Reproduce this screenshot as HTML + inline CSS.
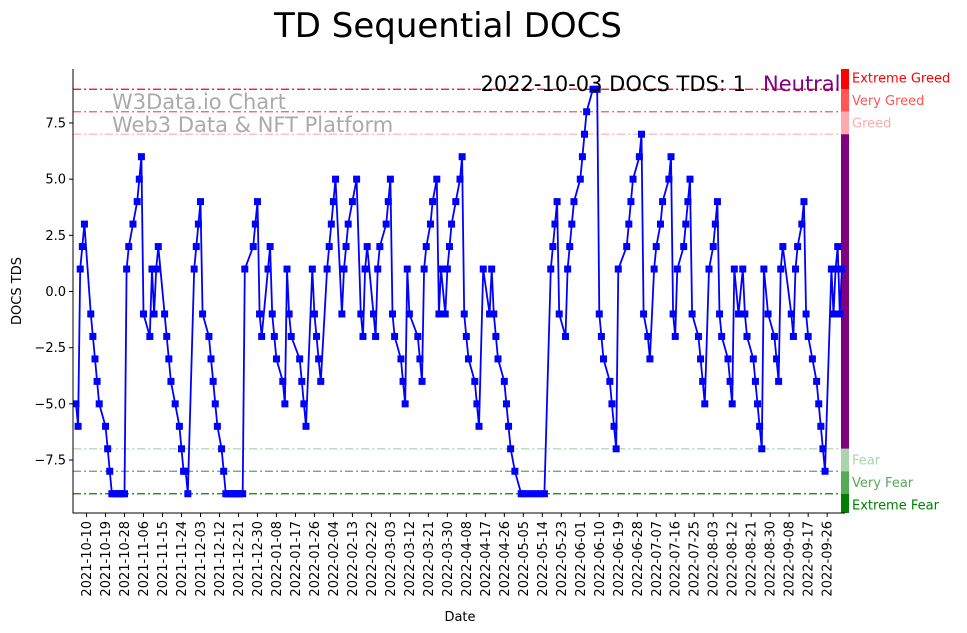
<!DOCTYPE html>
<html><head><meta charset="utf-8"><style>
body{margin:0;background:#fff;}
svg{display:block;font-family:"DejaVu Sans","Liberation Sans",sans-serif;}
</style></head><body>
<svg id="chart" width="967" height="633">
<text x="448" y="37" font-size="34" text-anchor="middle">TD Sequential DOCS</text>
<g id="bands"></g>
<g id="grid"></g>
<g id="series"></g>
<g id="axes"></g>
<text x="112" y="109" font-size="21" fill="#aaa">W3Data.io Chart</text>
<text x="112" y="132" font-size="21" fill="#aaa">Web3 Data &amp; NFT Platform</text>
<text x="746" y="91" font-size="21" text-anchor="end">2022-10-03 DOCS TDS: 1</text>
<text x="763" y="91" font-size="21" fill="#800080">Neutral</text>
<text x="460" y="621" font-size="13" text-anchor="middle">Date</text>
<text transform="translate(21,291) rotate(-90)" font-size="13" text-anchor="middle">DOCS TDS</text>
</svg>
<script>
const startDate = "2021-10-05";
const dayOffsets = [0,1,2,3,4,7,8,9,10,11,14,15,16,17,18,19,20,21,22,23,24,25,27,29,30,31,32,35,36,37,38,39,42,43,44,45,47,49,50,51,52,53,56,57,58,59,60,63,64,65,66,67,69,70,71,72,73,74,75,76,77,78,79,80,84,85,86,87,88,91,92,93,94,95,98,99,100,101,102,106,107,108,109,112,113,114,115,116,119,120,121,122,123,126,127,128,129,131,133,135,136,137,138,141,142,143,144,147,148,149,150,151,154,155,156,157,158,162,163,164,165,166,168,169,171,172,173,175,176,177,178,180,182,183,184,185,186,189,190,191,193,196,197,198,199,200,203,204,205,206,208,211,212,214,216,218,220,222,225,226,227,228,229,232,233,234,235,236,239,240,241,242,245,246,247,248,249,250,253,254,255,256,257,261,262,263,264,267,268,269,271,272,274,275,277,278,281,282,283,284,285,288,289,290,291,292,295,296,297,298,300,302,303,304,305,306,309,310,311,312,314,316,317,318,321,322,323,324,325,326,328,331,332,333,334,335,339,340,341,342,344,345,346,347,349,351,352,353,354,355,358,359,360,361,362,363];
const tdsValues = [-5,-6,1,2,3,-1,-2,-3,-4,-5,-6,-7,-8,-9,-9,-9,-9,-9,-9,-9,1,2,3,4,5,6,-1,-2,1,-1,1,2,-1,-2,-3,-4,-5,-6,-7,-8,-8,-9,1,2,3,4,-1,-2,-3,-4,-5,-6,-7,-8,-9,-9,-9,-9,-9,-9,-9,-9,-9,1,2,3,4,-1,-2,1,2,-1,-2,-3,-4,-5,1,-1,-2,-3,-4,-5,-6,1,-1,-2,-3,-4,1,2,3,4,5,-1,1,2,3,4,5,-1,-2,1,2,-1,-2,1,2,3,4,5,-1,-2,-3,-4,-5,1,-1,-2,-3,-4,1,2,3,4,5,-1,1,-1,1,2,3,4,5,6,-1,-2,-3,-4,-5,-6,1,-1,1,-1,-2,-3,-4,-5,-6,-7,-8,-9,-9,-9,-9,-9,-9,-9,1,2,3,4,-1,-2,1,2,3,4,5,6,7,8,9,9,9,-1,-2,-3,-4,-5,-6,-7,1,2,3,4,5,6,7,-1,-2,-3,1,2,3,4,5,6,-1,-2,1,2,3,4,5,-1,-2,-3,-4,-5,1,2,3,4,-1,-2,-3,-4,-5,1,-1,1,-1,-2,-3,-4,-5,-6,-7,1,-1,-2,-3,-4,1,2,-1,-2,1,2,3,4,-1,-2,-3,-4,-5,-6,-7,-8,1,-1,1,2,-1,1];
const yTicks = [-7.5,-5,-2.5,0,2.5,5,7.5];
const yTickLabels = ["−7.5","−5.0","−2.5","0.0","2.5","5.0","7.5"];
const levelValues = [9,8,7,-7,-8,-9];
const levelColors = ["#ff0000","#ff5555","#ffaaaa","#aad4aa","#55aa55","#008000"];
const levelNames = ["Extreme Greed","Very Greed","Greed","Fear","Very Fear","Extreme Fear"];
const bandRanges = [[9,10],[8,9],[7,8],[-7,7],[-8,-7],[-9,-8],[-10,-9]];
const bandColors = ["#ff0000","#ff5555","#ffaaaa","#800080","#aad4aa","#55aa55","#008000"];

const NS="http://www.w3.org/2000/svg";
const X0=73, X1=845, Y_TOP=69, Y_BOT=513;
const xs = d => 76 + d*2.11;
const ys = v => 291.5 - v*22.47;
const clampY = y => Math.max(Y_TOP, Math.min(Y_BOT, y));
function mk(tag, attrs, parent){const e=document.createElementNS(NS,tag);for(const k in attrs)e.setAttribute(k,attrs[k]);parent.appendChild(e);return e;}
const bands=document.getElementById('bands'), grid=document.getElementById('grid'), series=document.getElementById('series'), axes=document.getElementById('axes');

bandRanges.forEach((r,i)=>{
  const y1=clampY(ys(r[1])), y2=clampY(ys(r[0]));
  const e=mk('rect',{x:841,y:y1,width:8,height:y2-y1,fill:bandColors[i]},bands);
  
  
});
levelValues.forEach((v,i)=>{
  const l=mk('line',{x1:X0,x2:841,y1:ys(v),y2:ys(v),stroke:levelColors[i],'stroke-width':1.2,'stroke-dasharray':'8,3,2,3'},grid);
  
  
  const t=mk('text',{x:852,y:ys(v+(v>0?0.5:-0.5))+4.5,'font-size':13,fill:levelColors[i]},grid);
  t.textContent=levelNames[i];
  
  
});

const pts=dayOffsets.map((d,i)=>xs(d).toFixed(1)+','+ys(tdsValues[i]).toFixed(1)).join(' ');
const pl=mk('polyline',{points:pts,fill:'none',stroke:'#0000ff','stroke-width':1.8},series);


dayOffsets.forEach((d,i)=>{
  const r=mk('rect',{x:xs(d)-3.5,y:ys(tdsValues[i])-3.5,width:7,height:7,fill:'#0000ff'},series);
  
  
});

const ax=mk('path',{d:`M${X0},${Y_TOP} V${Y_BOT} H${X1}`,fill:'none',stroke:'#000','stroke-width':1},axes);


yTicks.forEach((v,i)=>{
  mk('line',{x1:X0-4,x2:X0,y1:ys(v),y2:ys(v),stroke:'#000'},axes);
  const t=mk('text',{x:X0-7,y:ys(v)+4.5,'font-size':13,'text-anchor':'end'},axes);
  t.textContent=yTickLabels[i];
  
  
});
const base=new Date(startDate+"T00:00:00Z");
for(let d=5; d<=363; d+=9){
  const x=xs(d);
  mk('line',{x1:x,x2:x,y1:Y_BOT,y2:Y_BOT+4,stroke:'#000'},axes);
  const dt=new Date(base.getTime()+d*86400000);
  const t=mk('text',{transform:`translate(${x+4.5},${Y_BOT+8}) rotate(-90)`,'font-size':13,'text-anchor':'end'},axes);
  t.textContent=dt.toISOString().slice(0,10);
  
  
}
</script>
</body></html>
